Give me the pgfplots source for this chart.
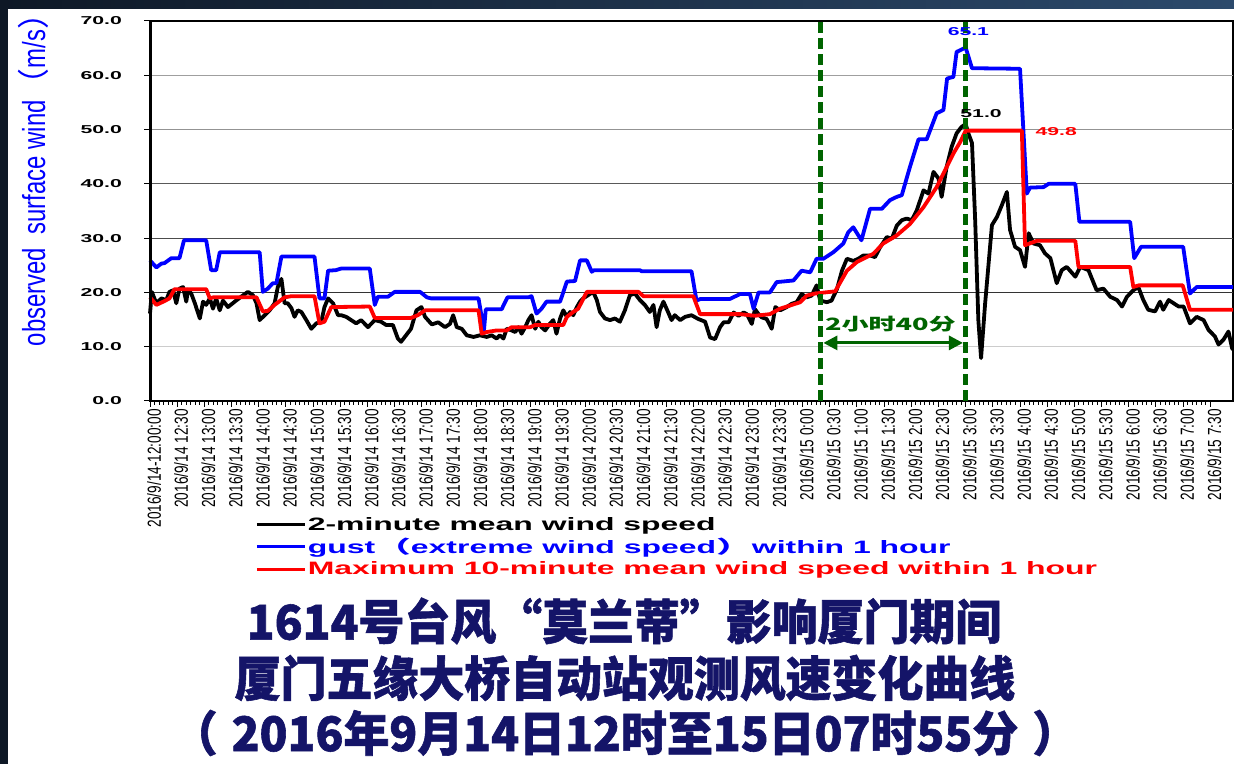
\documentclass[border=0pt]{standalone}
\usepackage{pgfplots}
\pgfplotsset{compat=1.18}
\usepackage{fontspec}
\usetikzlibrary{arrows.meta}
\setmainfont{Liberation Sans}
\newfontfamily\widef[FakeStretch=1.85]{Liberation Sans}
\newfontfamily\legf[FakeStretch=1.78]{Liberation Sans}
\newfontfamily\narrowf[FakeStretch=0.72]{Liberation Sans}
\newfontfamily\ylabf[FakeStretch=0.75]{Liberation Sans}
\newfontfamily\cjk{Noto Sans CJK SC}
\newfontfamily\cjkt[FakeStretch=0.96,FakeBold=1.2]{Noto Sans CJK SC}
\newfontfamily\cjkwide[FakeStretch=1.6]{Noto Sans CJK SC}
\newfontfamily\cjklegend[FakeStretch=2.0]{Noto Sans CJK SC}
\definecolor{dgreen}{RGB}{0,100,0}
\definecolor{navy}{RGB}{20,20,104}
\definecolor{bgdark}{RGB}{14,24,38}
\definecolor{bgright}{RGB}{44,74,108}
\begin{document}
\begin{tikzpicture}[x=1bp,y=1bp]
\useasboundingbox (0,0) rectangle (1234,764);
\shade[left color=bgdark, right color=bgright] (0,0) rectangle (1234,764);
\fill[white] (8,0) rectangle (1234,755);
\begin{axis}[
 at={(150bp,363bp)}, anchor=south west, scale only axis,
 width=1083bp, height=380bp,
 xmin=0, xmax=239, ymin=0, ymax=70,
 axis line style={black, line width=1.5bp},
 xtick={0,6,...,234}, minor x tick num=5,
 xticklabels={2016/9/14-12:00:00,2016/9/14 12:30,2016/9/14 13:00,2016/9/14 13:30,2016/9/14 14:00,2016/9/14 14:30,2016/9/14 15:00,2016/9/14 15:30,2016/9/14 16:00,2016/9/14 16:30,2016/9/14 17:00,2016/9/14 17:30,2016/9/14 18:00,2016/9/14 18:30,2016/9/14 19:00,2016/9/14 19:30,2016/9/14 20:00,2016/9/14 20:30,2016/9/14 21:00,2016/9/14 21:30,2016/9/14 22:00,2016/9/14 22:30,2016/9/14 23:00,2016/9/14 23:30,2016/9/15 0:00,2016/9/15 0:30,2016/9/15 1:00,2016/9/15 1:30,2016/9/15 2:00,2016/9/15 2:30,2016/9/15 3:00,2016/9/15 3:30,2016/9/15 4:00,2016/9/15 4:30,2016/9/15 5:00,2016/9/15 5:30,2016/9/15 6:00,2016/9/15 6:30,2016/9/15 7:00,2016/9/15 7:30},
 ytick={0,10,...,70}, yticklabels={0.0,10.0,20.0,30.0,40.0,50.0,60.0,70.0},
 tick align=outside, tick pos=left,
 major tick length=6bp, minor tick length=4bp,
 every tick/.style={black, line width=1bp},
 xticklabel style={rotate=90, anchor=east, font=\narrowf\fontsize{19}{19}\selectfont, inner sep=2bp, yshift=-4bp},
 yticklabel style={font=\widef\bfseries\fontsize{11.5}{12}\selectfont, inner sep=2bp, xshift=-20bp},
 legend style={at={(0.097,-0.302)}, anchor=north west, draw=none, fill=none, inner sep=0pt, row sep=3.5bp, font=\legf\bfseries\fontsize{18}{20}\selectfont, cells={anchor=west}, nodes={inner sep=1.5bp}},
 legend image code/.code={\draw[#1, line width=3bp] (0bp,0bp) -- (48bp,0bp);},
 clip=false,
]
\draw[gray!40, line width=1.2bp] (axis cs:0,10) -- (axis cs:239,10);
\draw[black!80, line width=1.2bp] (axis cs:0,20) -- (axis cs:239,20);
\draw[black!70, line width=1.2bp] (axis cs:0,30) -- (axis cs:239,30);
\draw[black!65, line width=1.2bp] (axis cs:0,40) -- (axis cs:239,40);
\draw[gray!85, line width=1.2bp] (axis cs:0,50) -- (axis cs:239,50);
\draw[gray!75, line width=1.2bp] (axis cs:0,60) -- (axis cs:239,60);

\addplot[black, line width=3.8bp, line join=round] coordinates {
(0,16.1) (0.4,20.1) (1.4,18.0) (2.5,18.9) (3.6,18.6) (4.3,20.1) (5.1,20.4) (5.8,18.0) (6.5,20.7) (7.3,21.0) (8,18.3) (8.4,20.5) (9.1,19.8) (9.9,18.0) (11,15.2) (11.7,18.3) (12.4,17.7) (13.2,18.9) (13.9,17.0) (14.6,18.9) (15.4,16.7) (16.1,18.5) (17.2,17.3) (18.7,18.3) (20.1,19.2) (21.6,20.1) (22.7,19.5) (23.5,18.0) (24.2,14.9) (25.3,15.8) (26.4,16.7) (27.5,18.0) (28.2,21.0) (29,22.5) (29.7,18.0) (30.4,18.0) (31.2,17.1) (31.9,15.5) (32.6,16.7) (33.4,16.4) (34.5,14.9) (35.6,13.3) (36.7,14.3) (37.8,14.6) (38.5,17.3) (39.3,18.9) (40.4,18.0) (41.5,15.8) (42.2,15.8) (43.3,15.5) (44.4,14.9) (45.5,14.3) (46.6,14.9) (48.1,13.6) (49.6,14.9) (51,14.6) (52.1,14.0) (53.6,14.0) (54.7,11.5) (55.4,10.9) (56.5,12.1) (57.6,13.3) (58.8,16.7) (59.9,17.3)
(60.7,15.5) (62.2,14.1) (63.6,14.5) (65.1,13.6) (66.2,14.2) (66.9,15.8) (67.7,13.6) (68.8,13.3) (69.9,12.1) (71.4,11.8) (72.8,12.1) (74.3,11.8) (75.4,12.1) (76.5,11.5) (77.2,12.1) (78,11.5) (78.7,13.3) (79.8,13.0) (80.6,12.7) (81.3,13.6) (82,12.4) (82.8,13.6) (83.5,14.9) (84.2,15.8) (85,13.3) (85.7,14.6) (86.4,13.6) (87.2,13.0) (88.3,14.3) (89,14.9) (89.7,12.4) (90.5,15.2) (91.2,16.7) (92,15.5) (92.7,16.4) (93.4,15.8) (94.2,17.3) (94.9,18.3) (95.6,18.9) (96.7,19.5) (97.8,20.1) (98.6,18.6) (99.3,16.4) (100.4,15.2) (101.5,14.9) (102.6,15.2) (103.7,14.6) (104.8,16.7) (105.9,19.5) (107,19.8) (108.1,18.6) (109.2,17.7) (110.3,16.4) (111.1,17.7) (111.8,13.6) (112.5,16.7) (113.3,18.3) (114,17.0) (115.1,14.9) (115.8,15.8) (117,14.9) (118.1,15.5) (119.5,15.8)
(121,15.1) (122.5,14.6) (123.6,11.7) (124.7,11.4) (125.8,13.6) (126.6,14.5) (127.7,14.5) (128.8,16.3) (129.9,15.7) (131,16.3) (131.7,16.0) (132.8,14.2) (133.5,16.9) (134.3,16.0) (135,15.4) (136.1,15.1) (137.2,13.3) (138,17.3) (139.1,16.7) (140.5,17.3) (141.6,17.9) (142.7,18.2) (143.8,19.7) (144.9,19.1) (146,19.4) (147.1,21.3) (147.9,18.5) (149.4,18.2) (150.4,18.5) (151.6,20.6) (152.7,24.0) (153.8,26.2) (155.2,25.8) (156.3,26.2) (157.4,26.8) (158.9,26.8) (160,26.5) (161.1,28.3) (162.6,30.2) (163.7,29.9) (164.8,32.3) (165.9,33.3) (167,33.6) (168.1,33.3) (169.2,35.1) (170.7,38.8) (171.8,38.2) (172.9,42.2) (174,41.0) (174.7,37.6) (175.8,43.1) (176.9,46.8) (178,49.3) (179.1,50.5) (180,51.0)
(180.6,49.3) (181.4,47.5) (182.1,33.3) (182.8,14.9) (183.4,7.9) (184.3,18.0) (185.8,32.4) (186.9,33.9) (188,36.1) (189.1,38.5) (189.8,31.5) (190.9,28.4) (192,27.8) (193.1,24.7) (193.9,30.9) (195,29.0) (196.4,28.7) (197.5,27.2) (198.7,26.3) (200.1,21.7) (201.2,24.1) (202.3,24.7) (204.2,22.9) (205.3,24.7) (207.1,24.1) (208.9,20.4) (210.4,20.7) (211.9,19.2) (213.4,18.6) (214.5,17.4) (215.6,19.2) (217,20.4) (218.1,21.0) (219.2,18.6) (220.3,16.8) (221.8,16.5) (222.9,18.3) (223.6,16.8) (224.8,18.6) (225.9,18.0) (227,17.4) (228.1,17.4) (229.5,14.3) (231,15.5) (232.5,14.9) (233.6,13.1) (235,11.9) (235.8,10.4) (236.9,11.3) (238,12.8) (238.8,9.7) (239,9.5)
};
\addlegendentry{\textcolor{black}{2-minute mean wind speed}}

\addplot[blue, line width=3.8bp, line join=round] coordinates {
(0,25.9) (1.4,24.6) (2.5,25.3) (3.2,25.4) (4.7,26.3) (6.5,26.3) (7.5,29.6) (12.4,29.6) (13.5,24.1) (14.6,24.1) (15.4,27.4) (24.2,27.4) (24.9,20.1) (26,20.7) (27.1,21.7) (27.9,21.7) (29,26.6) (36.3,26.6) (37.4,18.9) (38.5,18.9) (39.3,24.0) (41,24.1) (42.2,24.4) (48.5,24.4) (49.6,17.7) (50.3,19.2) (52.5,19.2) (54,20.1) (59.6,20.1) (61.1,19.1) (62,18.9) (72.5,18.9) (73.7,13.0) (74.1,16.9) (77.6,16.9) (78.9,19.1) (83.5,19.1) (84.2,19.3) (85.3,16.1) (86.4,17.0) (87.5,18.3) (90.5,18.3) (92,22.0) (93.8,22.1) (94.9,25.9) (96.4,25.9) (97.5,23.8) (98,24.1) (108.1,24.1) (108.5,23.9) (119.5,23.9) (120.6,18.5) (121.5,18.8) (128,18.8) (130.2,19.7) (132.4,19.7) (133.2,17.0) (134.3,20.0) (136.8,20.0) (138.3,21.9) (142,22.2) (143.8,24.0) (145.7,23.7) (147.1,26.2) (148.6,26.2) (150.8,27.4) (153,29.0) (154.1,31.1) (155.2,32.0) (157,29.6) (158.9,35.4) (161.5,35.4) (163.3,37.0) (164.8,37.6) (165.9,37.9) (167.7,43.1) (169.6,48.2) (171.4,48.2) (173.6,53.0) (175.1,53.6) (175.9,59.4) (177.3,59.7) (178,64.3) (180,65.1) (181.4,61.3) (192,61.2) (193.5,38.2) (194.2,39.3) (197.2,39.4) (198.3,40.0) (204.2,40.0) (205.1,33.0) (216.3,33.0) (217.2,26.3) (218.7,28.4) (228,28.4) (229.5,19.8) (231,21.0) (239,21.0)
};
\addlegendentry{\textcolor{blue}{gust{\cjklegend\bfseries （}extreme wind speed{\cjklegend\bfseries ）}within 1 hour}}

\addplot[red, line width=3.8bp, line join=round] coordinates {
(0,19.1) (1.4,17.7) (3.2,18.4) (4.3,18.9) (5.4,20.6) (12.4,20.6) (13.2,18.9) (14,19.1) (23.5,19.1) (24.9,16.5) (26,16.6) (27.5,17.7) (29.7,19.1) (31.2,19.3) (36.3,19.3) (37.4,14.3) (38.5,14.6) (40,17.3) (48.5,17.4) (49.6,15.3) (57.6,15.3) (59.1,15.8) (60.7,16.7) (72.5,16.7) (73.2,12.4) (74.3,12.7) (76.5,13.0) (78.7,13.0) (79.8,13.6) (83.9,13.6) (85,14.0) (91.2,14.0) (92,15.5) (93.4,16.4) (94.5,17.0) (96.4,20.1) (107.8,20.1) (108.9,19.3) (119.9,19.3) (121.4,16.0) (130.2,16.0) (133.5,15.7) (136.8,16.0) (139,17.0) (141.3,17.6) (143.5,18.2) (144.9,19.4) (146.8,19.8) (151.2,20.2) (153.8,24.0) (156,25.6) (159.6,27.1) (161.8,29.0) (164.8,30.5) (167.7,32.6) (170.7,35.7) (173.6,39.4) (175.1,41.9) (177.3,45.6) (178.8,47.7) (180,49.8) (192.4,49.8) (193.1,28.7) (195.7,29.5) (204.2,29.5) (204.9,24.7) (216.3,24.7) (217,21.0) (218.2,21.3) (227.9,21.3) (229.5,16.8) (239,16.8)
};
\addlegendentry{\textcolor{red}{Maximum 10-minute mean wind speed within 1 hour}}

\draw[black, line width=3bp] (axis cs:0,0) -- (axis cs:0,70);
\draw[black, line width=2.5bp] (axis cs:0,0) -- (axis cs:239,0);
\draw[dgreen, line width=4.5bp, dash pattern=on 11bp off 5bp] (axis cs:148,0) -- (axis cs:148,70);
\draw[dgreen, line width=4.5bp, dash pattern=on 11bp off 5bp] (axis cs:180,0) -- (axis cs:180,70);
\draw[dgreen, line width=3bp, {Triangle[length=14bp,width=14bp]}-{Triangle[length=14bp,width=14bp]}] (axis cs:148.6,10.7) -- (axis cs:179.4,10.7);
\node[text=dgreen, font=\cjkwide\bfseries\fontsize{17}{17}\selectfont] at (axis cs:163.4,14.2) {2小时40分};
\node[text=blue, font=\widef\bfseries\fontsize{11.5}{12}\selectfont] at (axis cs:180.6,68.0) {65.1};
\node[text=black, font=\widef\bfseries\fontsize{11.5}{12}\selectfont] at (axis cs:183.4,53.0) {51.0};
\node[text=red, font=\widef\bfseries\fontsize{11.5}{12}\selectfont] at (axis cs:200,49.7) {49.8};
\end{axis}
\node[rotate=90, text=blue, font=\ylabf\fontsize{32}{32}\selectfont] at (33,592) {observed\ \ surface wind{\cjk （}m/s{\cjk ）}};
\node[text=navy, font=\cjkt\bfseries\fontsize{48}{48}\selectfont] at (624,143) {1614号台风“莫兰蒂”影响厦门期间};
\node[text=navy, font=\cjkt\bfseries\fontsize{48}{48}\selectfont] at (625,86) {厦门五缘大桥自动站观测风速变化曲线};
\node[text=navy, font=\cjkt\bfseries\fontsize{48}{48}\selectfont] at (625,31) {（\hspace{14bp}2016年9月14日12时至15日07时55分\hspace{14bp}）};
\end{tikzpicture}
\end{document}
